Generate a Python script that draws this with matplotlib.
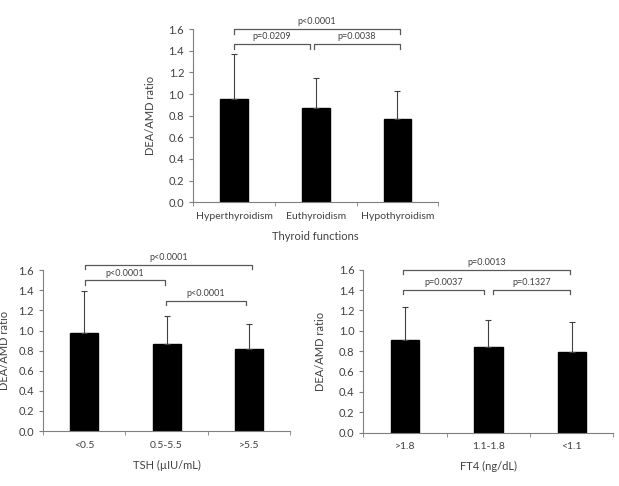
import matplotlib
matplotlib.use('Agg')
import matplotlib.pyplot as plt
import numpy as np

plt.rcParams['font.family'] = ['Lato', 'DejaVu Sans']

# top panel: thyroid functions
thyroidLabels = ['Hyperthyroidism', 'Euthyroidism', 'Hypothyroidism']
thyroidMeans = [0.95, 0.875, 0.77]
thyroidErrTop = [1.37, 1.15, 1.03]
thyroidBrackets = [  # (x1, x2, height, text)
    (0.0, 2.03, 1.60, 'p<0.0001'),
    (0.0, 0.93, 1.465, 'p=0.0209'),
    (0.98, 2.03, 1.465, 'p=0.0038'),
]

# bottom left: TSH
tshLabels = ['<0.5', '0.5-5.5', '>5.5']
tshMeans = [0.98, 0.87, 0.82]
tshErrTop = [1.39, 1.145, 1.07]
tshBrackets = [
    (0.01, 2.04, 1.655, 'p<0.0001'),
    (0.01, 0.98, 1.50, 'p<0.0001'),
    (0.99, 1.96, 1.295, 'p<0.0001'),
]

# bottom right: FT4
ft4Labels = ['>1.8', '1.1-1.8', '<1.1']
ft4Means = [0.91, 0.845, 0.79]
ft4ErrTop = [1.23, 1.11, 1.09]
ft4Brackets = [
    (-0.02, 1.98, 1.60, 'p=0.0013'),
    (-0.02, 0.95, 1.403, 'p=0.0037'),
    (1.06, 1.98, 1.403, 'p=0.1327'),
]

axisColor = '#7f7f7f'
textColor = '#404040'


def drawPanel(ax, labels, means, errTop, brackets, xlabel):
    x = np.arange(len(labels))
    means = np.array(means)
    upper = np.array(errTop) - means
    ax.bar(x, means, width=0.34, color='black', edgecolor='black', zorder=2)
    ax.errorbar(x, means, yerr=[np.zeros_like(upper), upper], fmt='none',
                ecolor='#404040', elinewidth=0.8, capsize=2, capthick=0.8, zorder=3)
    ax.set_xlim(-0.5, len(labels) - 0.5)
    ax.set_ylim(0, 1.6)
    ax.set_yticks(np.arange(0, 1.61, 0.2))
    ax.set_yticklabels([f'{v:.1f}' for v in np.arange(0, 1.61, 0.2)])
    ax.set_xticks(x)
    ax.set_xticklabels(labels)
    ax.set_xticks(np.arange(-0.5, len(labels), 1.0), minor=True)
    ax.tick_params(axis='x', which='major', length=0, pad=7, labelsize=7.5, labelcolor=textColor)
    ax.tick_params(axis='x', which='minor', length=3, direction='out', color=axisColor)
    ax.tick_params(axis='y', length=3, direction='out', color=axisColor, labelsize=8, labelcolor=textColor)
    for side in ('top', 'right'):
        ax.spines[side].set_visible(False)
    for side in ('left', 'bottom'):
        ax.spines[side].set_color(axisColor)
        ax.spines[side].set_linewidth(0.8)
    ax.set_xlabel(xlabel, fontsize=8, color=textColor, labelpad=7)
    drop = 0.045
    for x1, x2, h, txt in brackets:
        ax.plot([x1, x1, x2, x2], [h - drop, h, h, h - drop], color='#595959',
                lw=0.9, clip_on=False)
        ax.text((x1 + x2) / 2, h + 0.025, txt, ha='center', va='bottom',
                fontsize=6.5, color=textColor)


fig = plt.figure(figsize=(6.19, 4.86), dpi=100)

axTop = fig.add_axes([0.312, 0.584, 0.396, 0.356])
drawPanel(axTop, thyroidLabels, thyroidMeans, thyroidErrTop, thyroidBrackets, 'Thyroid functions')
axTop.set_ylabel('DEA/AMD ratio', fontsize=8, color=textColor, labelpad=9)

axLeft = fig.add_axes([0.0695, 0.113, 0.399, 0.331])
drawPanel(axLeft, tshLabels, tshMeans, tshErrTop, tshBrackets, 'TSH (\u00b5IU/mL)')
fig.text(0.007, 0.113 + 0.331 / 2, 'DEA/AMD ratio', rotation=90, ha='center', va='center',
         fontsize=8, color=textColor)

axRight = fig.add_axes([0.587, 0.110, 0.404, 0.335])
drawPanel(axRight, ft4Labels, ft4Means, ft4ErrTop, ft4Brackets, 'FT4 (ng/dL)')
axRight.set_ylabel('DEA/AMD ratio', fontsize=8, color=textColor, labelpad=9)

fig.savefig('out.png', dpi=100)
